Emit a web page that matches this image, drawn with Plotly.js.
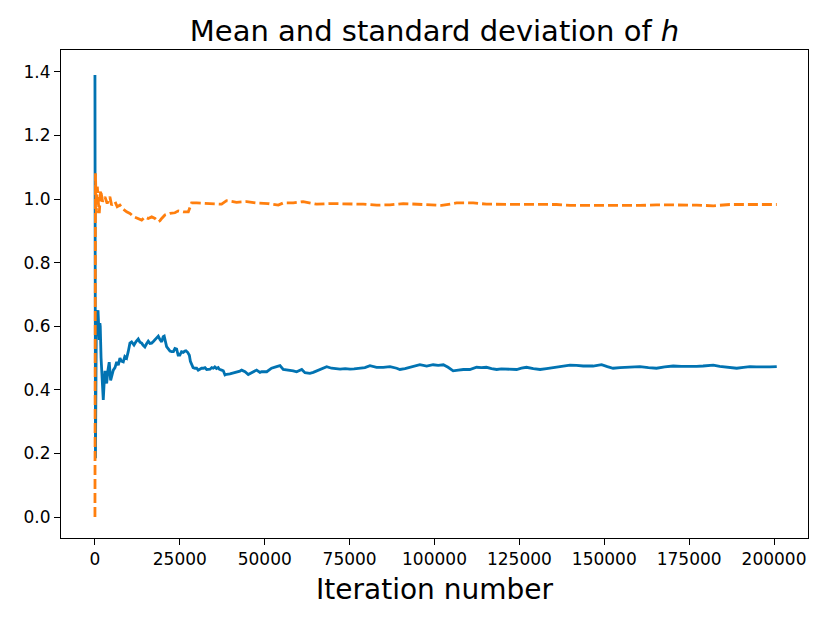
<!DOCTYPE html>
<html>
<head>
<meta charset="utf-8">
<script src="https://cdn.plot.ly/plotly-3.0.1.min.js"></script>
<style>html,body{margin:0;padding:0;background:#fff;}#chart{width:830px;height:623px;}</style>
</head>
<body>
<div id="chart"></div>
<script>
// Mean of h (solid blue)
const meanIter = [0,150,400,600,900,1100,1270,1450,1560,1800,1970,2200,2450,2700,2950,3200,3450,3800,4200,4620,5000,5400,5900,6400,6870,7360,7800,8340,8800,9330,9800,10300,10800,11500,12100,12750,13250,13750,14200,14700,15200,15700,16200,16700,17200,17700,18200,18650,19150,19650,20100,20400,21100,21600,22100,22600,23100,23550,24050,24500,25000,25500,26000,26500,26800,27300,27800,28100,28450,28900,29450,29950,30400,30900,31400,31900,32400,32900,33400,33900,34400,34850,35300,35800,36300,36600,37300,37800,38300,38800,39750,40500,41200,42000,42700,43200,44200,45150,46150,46600,47600,48600,49100,50600,51300,52000,53500,54500,55450,56400,57400,58400,59400,60900,61850,63300,64300,65300,66800,68250,69700,71000,72200,73700,75100,76300,77500,79500,81000,82950,84900,86900,88850,89800,91300,92800,94200,95700,97700,99600,101100,102600,104000,105500,107000,108500,110400,112400,113800,115300,116800,118300,119700,121200,122700,124200,125600,127100,129100,131100,133000,135000,137400,139900,141800,143800,146700,149200,150900,152600,154600,156600,158500,160500,163000,165400,167800,170300,172700,175200,177200,179100,182100,184000,186000,189000,191000,192900,194800,196800,198800,200800];
const meanVal = [1.39,0.185,0.60,0.64,0.65,0.58,0.557,0.61,0.60,0.50,0.47,0.40,0.368,0.42,0.46,0.43,0.42,0.46,0.487,0.43,0.45,0.462,0.47,0.488,0.478,0.50,0.49,0.488,0.505,0.50,0.52,0.547,0.551,0.541,0.552,0.56,0.55,0.547,0.54,0.535,0.545,0.553,0.546,0.547,0.552,0.557,0.563,0.569,0.558,0.551,0.567,0.569,0.536,0.530,0.522,0.52,0.52,0.530,0.528,0.509,0.509,0.520,0.518,0.522,0.523,0.518,0.509,0.49,0.478,0.47,0.468,0.468,0.462,0.465,0.468,0.468,0.470,0.464,0.464,0.465,0.470,0.468,0.472,0.467,0.470,0.465,0.462,0.460,0.447,0.449,0.450,0.452,0.455,0.458,0.459,0.462,0.457,0.448,0.454,0.457,0.462,0.455,0.457,0.457,0.462,0.468,0.473,0.476,0.464,0.463,0.462,0.460,0.457,0.464,0.454,0.452,0.455,0.459,0.465,0.473,0.468,0.466,0.465,0.467,0.465,0.466,0.468,0.470,0.476,0.471,0.471,0.473,0.468,0.464,0.467,0.471,0.475,0.479,0.475,0.479,0.477,0.479,0.471,0.460,0.462,0.464,0.464,0.471,0.470,0.471,0.467,0.464,0.466,0.466,0.465,0.464,0.468,0.471,0.467,0.464,0.467,0.470,0.474,0.478,0.477,0.475,0.475,0.479,0.473,0.468,0.470,0.471,0.472,0.473,0.470,0.468,0.472,0.475,0.474,0.473,0.474,0.475,0.478,0.474,0.471,0.468,0.471,0.473,0.472,0.471,0.472,0.473];

// Standard deviation of h (dashed orange)
const stdIter = [0,150,400,700,1000,1270,1680,2000,2250,2950,3600,4400,4900,5900,6560,7360,8340,9330,10300,11500,12750,13750,14700,15700,16700,17700,18650,19150,19650,20600,22100,23550,24550,26000,27500,28450,29950,32400,35800,37300,38750,41700,44700,47600,51000,54000,55450,58400,61300,63300,65300,69200,75100,79000,83000,86900,90800,95700,99600,102100,106500,111400,115300,120200,125100,132000,135900,139900,144800,148700,154600,160500,165400,170300,177200,182100,187000,191900,200800];
const stdVal = [0.0,1.081,0.956,1.039,0.99,0.956,1.028,1.00,0.992,1.007,0.986,1.007,0.981,0.992,0.976,0.981,0.968,0.960,0.955,0.944,0.939,0.934,0.944,0.939,0.944,0.939,0.929,0.932,0.939,0.950,0.955,0.957,0.963,0.960,0.960,0.988,0.988,0.986,0.984,0.984,0.995,0.990,0.992,0.988,0.986,0.981,0.988,0.988,0.992,0.988,0.984,0.986,0.986,0.984,0.981,0.982,0.986,0.984,0.981,0.980,0.988,0.988,0.984,0.984,0.984,0.985,0.983,0.980,0.980,0.979,0.981,0.980,0.982,0.982,0.981,0.979,0.983,0.983,0.983];

const yTicks = [0.0,0.2,0.4,0.6,0.8,1.0,1.2,1.4];
const xTicks = [0,25000,50000,75000,100000,125000,150000,175000,200000];

const FONT = 'DejaVu Sans, sans-serif';

const traces = [
  {x: meanIter, y: meanVal, type: 'scatter', mode: 'lines', name: 'mean',
   line: {color: '#0173b2', width: 2.8}},
  {x: stdIter, y: stdVal, type: 'scatter', mode: 'lines', name: 'std',
   line: {color: '#ff7f0e', width: 2.8, dash: '10px,4px'}}
];

const layout = {
  width: 830, height: 623,
  margin: {l: 61, r: 22, t: 50, b: 85},
  paper_bgcolor: '#ffffff', plot_bgcolor: '#ffffff',
  showlegend: false,
  font: {family: FONT, color: '#000000', size: 17},
  title: {text: 'Mean and standard deviation of <i>h</i>', font: {family: FONT, size: 29, color: '#000'},
          x: 0.5, xanchor: 'center', xref: 'paper', y: 1, yref: 'paper', yanchor: 'bottom', pad: {b: 9}},
  xaxis: {
    range: [-10000, 210000], tickvals: xTicks, tickformat: 'd',
    showgrid: false, zeroline: false, showline: true, mirror: true, linecolor: '#000', linewidth: 1,
    ticks: 'outside', ticklen: 6, tickwidth: 1, tickcolor: '#000',
    tickfont: {family: FONT, size: 17, color: '#000'},
    title: {text: 'Iteration number', font: {family: FONT, size: 28, color: '#000'}, standoff: 10}
  },
  yaxis: {
    range: [-0.066, 1.469], tickvals: yTicks, tickformat: '.1f',
    showgrid: false, zeroline: false, showline: true, mirror: true, linecolor: '#000', linewidth: 1,
    ticks: 'outside', ticklen: 6, tickwidth: 1, tickcolor: '#000',
    tickfont: {family: FONT, size: 17, color: '#000'}
  }
};

Plotly.newPlot('chart', traces, layout, {displayModeBar: false, staticPlot: true});
</script>
</body>
</html>
